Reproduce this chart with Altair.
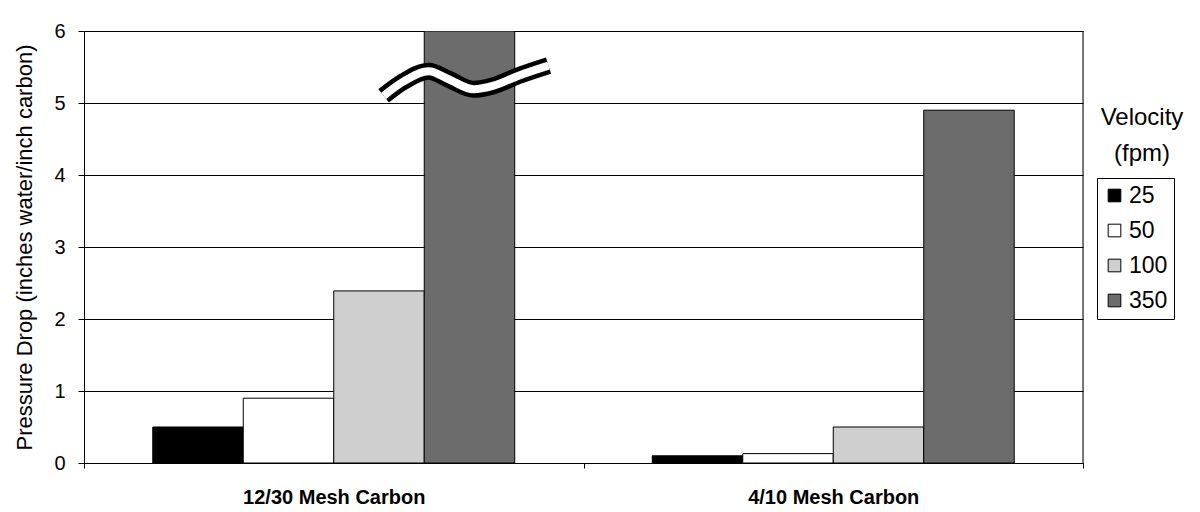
import altair as alt
import pandas as pd

categories = ["12/30 Mesh Carbon", "4/10 Mesh Carbon"]
velocities = ["25", "50", "100", "350"]
values_1230 = [0.5, 0.9, 2.39, 6.0]
values_410 = [0.1, 0.13, 0.5, 4.9]
colors = ["#000000", "#ffffff", "#cfcfcf", "#6c6c6c"]

# axis-break symbol (wave) drawn across the clipped 350 fpm bar, in chart units
wave_x = [0.60, 0.64, 0.69, 0.73, 0.78, 0.82, 0.87, 0.93]
wave_y = [5.10, 5.30, 5.44, 5.33, 5.19, 5.24, 5.38, 5.52]

rows = []
for cat, vals in zip(categories, [values_1230, values_410]):
    for v, val in zip(velocities, vals):
        rows.append({"Category": cat, "Velocity": v, "Value": val})
df = pd.DataFrame(rows)
wave = pd.DataFrame({"x": wave_x, "Value": wave_y, "i": list(range(len(wave_x)))})

FONT = "Liberation Sans"
W, H = 999, 432
YTITLE = "Pressure Drop (inches water/inch carbon)"

ydom = alt.Scale(domain=[0, 6], nice=False)
y_axis = alt.Axis(values=[0, 1, 2, 3, 4, 5, 6], format="d", labelFont=FONT,
                  labelFontSize=20, labelColor="black", titleFont=FONT,
                  titleFontSize=22, titleFontWeight="normal", titleColor="black",
                  titlePadding=17, labelPadding=13,
                  domainColor="black", tickColor="black", tickSize=6,
                  grid=True, gridColor="black", gridWidth=1)

bars = alt.Chart(df).mark_bar(stroke="black", strokeWidth=1, clip=True).encode(
    x=alt.X("Category:N", sort=categories, title=None,
            scale=alt.Scale(paddingInner=0, paddingOuter=0),
            axis=alt.Axis(labelAngle=0, labelFont=FONT, labelFontSize=20,
                          labelFontWeight="bold", labelColor="black", labelLimit=0,
                          labelPadding=19, domainColor="black", tickColor="black",
                          tickBand="extent", tickSize=5, grid=False)),
    xOffset=alt.XOffset("Velocity:N", sort=velocities,
                        scale=alt.Scale(paddingInner=0, paddingOuter=0.76)),
    y=alt.Y("Value:Q", scale=ydom, title=YTITLE, axis=y_axis),
    fill=alt.Fill("Velocity:N", sort=velocities,
                  scale=alt.Scale(domain=velocities, range=colors),
                  legend=alt.Legend(title=None, orient="none", legendX=1013, legendY=147,
                                    symbolType="square", symbolSize=160,
                                    symbolStrokeColor="black", symbolStrokeWidth=1,
                                    labelFont=FONT, labelFontSize=23, labelColor="black",
                                    rowPadding=11, labelOffset=3,
                                    strokeColor="black", padding=6, fillColor="white")),
)

wave_black = alt.Chart(wave).mark_line(color="black", strokeWidth=17, interpolate="monotone").encode(
    x=alt.X("x:Q", scale=alt.Scale(domain=[0, 2], nice=False), axis=None),
    y=alt.Y("Value:Q", scale=ydom, title=YTITLE, axis=y_axis),
    order="i:Q",
)
wave_white = alt.Chart(wave).mark_line(color="white", strokeWidth=8, interpolate="monotone").encode(
    x=alt.X("x:Q", scale=alt.Scale(domain=[0, 2], nice=False), axis=None),
    y=alt.Y("Value:Q", scale=ydom, title=YTITLE, axis=y_axis),
    order="i:Q",
)

title_df = pd.DataFrame({"t": ["Velocity", "(fpm)"], "yy": [116 - 29, 152 - 29]})
legend_title = alt.Chart(title_df).mark_text(font=FONT, fontSize=24, color="black",
                                             align="center", baseline="middle").encode(
    x=alt.value(1142 - 84), y=alt.Y("yy:Q", scale=None), text="t:N")

right_border = alt.Chart(pd.DataFrame({"a": [0]})).mark_rule(color="black", strokeWidth=1).encode(
    x=alt.value(W), y=alt.value(0), y2=alt.value(H))

chart = alt.layer(bars, wave_black, wave_white, right_border, legend_title).resolve_scale(
    x="independent"
).properties(
    width=W, height=H, padding={"left": 5, "top": 13, "right": 0, "bottom": 0}
).configure_view(stroke=None).configure(background="white")

chart.save("out.html", embed_options={"renderer": "svg", "actions": False})
